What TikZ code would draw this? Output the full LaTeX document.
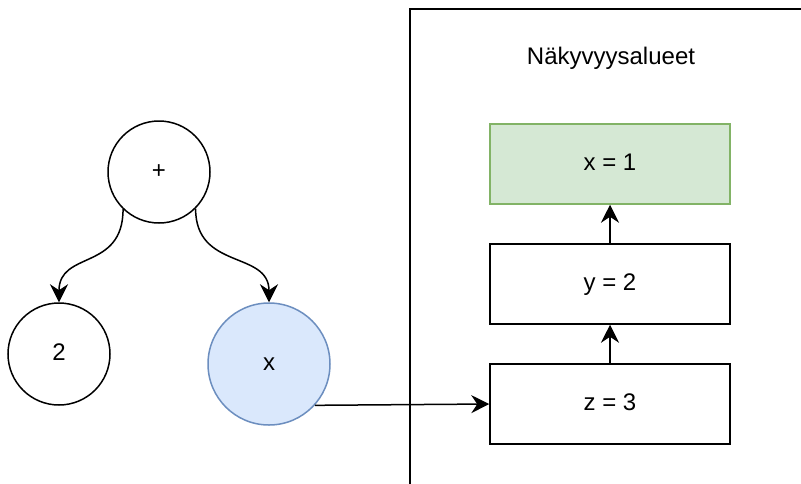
\documentclass[tikz,border=0pt]{standalone}
\usepackage{fontspec}
\setmainfont{Liberation Sans}
\usetikzlibrary{arrows.meta}
\definecolor{blueFill}{HTML}{DAE8FC}
\definecolor{blueLine}{HTML}{6C8EBF}
\definecolor{greenFill}{HTML}{D5E8D4}
\definecolor{greenLine}{HTML}{82B366}
\begin{document}
\begin{tikzpicture}[x=1pt,y=-1pt,
  lbl/.style={font=\fontsize{24}{29}\selectfont, text height=17pt, text depth=5pt, inner sep=0pt},
  treenode/.style={lbl, circle, draw, line width=1.5pt, minimum size=102pt},
  scopebox/.style={lbl, rectangle, draw, line width=1.5pt, minimum width=240pt, minimum height=80pt},
  arr/.style={line width=1.5pt, -{Stealth[length=18pt,width=18pt,inset=6pt]}}]
  \clip (0,0) rectangle (801,483);
  \fill[white] (0,0) rectangle (801,483);

  % scope frame, running past the right and bottom edges
  \draw[line width=1.5pt] (410,9) rectangle (840,520);
  \node[lbl] (title) at (611,58) {Näkyvyysalueet};

  % scope chain
  \node[scopebox, fill=greenFill, draw=greenLine] (sx) at (610,164) {x = 1};
  \node[scopebox] (sy) at (610,284) {y = 2};
  \node[scopebox] (sz) at (610,404) {z = 3};
  \draw[arr] (sy.north) -- (sx.south);
  \draw[arr] (sz.north) -- (sy.south);

  % expression tree
  \node[treenode] (plus) at (159,172) {+};
  \node[treenode] (two) at (59,354) {2};
  \node[treenode, minimum size=122pt, fill=blueFill, draw=blueLine] (var) at (269,364) {x};
  \draw[arr] (plus.226) .. controls +(0,62) and +(0,-52) .. (two.north);
  \draw[arr] (plus.-45) .. controls +(0,62) and +(0,-52) .. (var.north);

  % lookup of the variable in the scope chain
  \draw[arr] (var.-42) -- (sz.west);
\end{tikzpicture}
\end{document}
